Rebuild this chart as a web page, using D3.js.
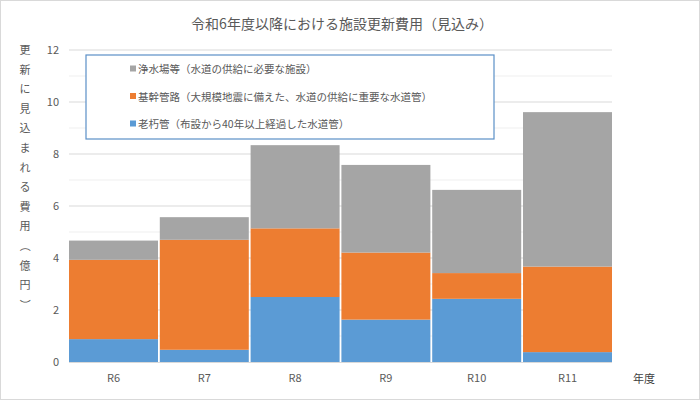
<!DOCTYPE html>
<html><head><meta charset="utf-8">
<script src="https://cdn.jsdelivr.net/npm/d3@7"></script>
<style>body{margin:0;background:#fff}text{font-family:"Noto Sans CJK JP",sans-serif}</style>
</head><body><svg id="c" width="700" height="400"></svg>
<script>
var years = ['R6', 'R7', 'R8', 'R9', 'R10', 'R11'];
var oldPipe = [0.88, 0.47, 2.50, 1.63, 2.43, 0.38];
var mainPipe = [3.05, 4.23, 2.64, 2.58, 0.99, 3.29];
var plant = [0.74, 0.87, 3.20, 3.37, 3.20, 5.94];
var seriesNames = ['老朽管（布設から40年以上経過した水道管）', '基幹管路（大規模地震に備えた、水道の供給に重要な水道管）', '浄水場等（水道の供給に必要な施設）'];
var colors = ['#5b9bd5', '#ed7d31', '#a5a5a5'];
var yTicks = [0, 2, 4, 6, 8, 10, 12];

var svg = d3.select('#c');
svg.append('rect').attr('x', 0.5).attr('y', 0.5).attr('width', 699).attr('height', 399)
    .attr('fill', '#fff').attr('stroke', '#d9d9d9');

var x = d3.scaleBand().domain(years).range([69, 612]).paddingInner(0.02);
var y = d3.scaleLinear().domain([0, 12]).range([362, 50]);

// grid
svg.append('g').selectAll('line').data(d3.range(1, 13)).join('line')
    .attr('x1', 69).attr('x2', 612).attr('y1', y).attr('y2', y)
    .attr('stroke', function(d) { return d % 2 ? '#efefef' : '#d9d9d9'; });

var table = years.map(function(yr, i) {
    return {year: yr, s0: oldPipe[i], s1: mainPipe[i], s2: plant[i]};
});
var stacked = d3.stack().keys(['s0', 's1', 's2'])(table);

svg.append('g').selectAll('g').data(stacked).join('g')
    .attr('fill', function(d, i) { return colors[i]; })
    .selectAll('rect').data(function(d) { return d; }).join('rect')
    .attr('x', function(d) { return x(d.data.year); })
    .attr('width', x.bandwidth())
    .attr('y', function(d) { return y(d[1]); })
    .attr('height', function(d) { return y(d[0]) - y(d[1]); });

svg.append('line').attr('x1', 69).attr('x2', 612).attr('y1', 362.5).attr('y2', 362.5).attr('stroke', '#d9d9d9');

var yAxis = svg.append('g').attr('transform', 'translate(62,0)')
    .call(d3.axisLeft(y).tickValues(yTicks).tickSize(0));
var xAxis = svg.append('g').attr('transform', 'translate(0,362)')
    .call(d3.axisBottom(x).tickSize(0).tickPadding(12));
[yAxis, xAxis].forEach(function(a) {
    a.select('.domain').remove();
    a.selectAll('text').attr('fill', '#595959').attr('font-size', 11);
});
yAxis.selectAll('text').attr('text-anchor', 'end').attr('dx', 0);

svg.append('text').attr('x', 342).attr('y', 29).attr('text-anchor', 'middle')
    .attr('font-size', 14).attr('fill', '#595959').text('令和6年度以降における施設更新費用（見込み）');
svg.append('text').attr('x', 644).attr('y', 383).attr('text-anchor', 'middle')
    .attr('font-size', 11).attr('fill', '#404040').text('年度');

var yTitle = '更新に見込まれる費用（億円）'.split('');
svg.append('g').selectAll('text').data(yTitle).join('text')
    .attr('x', 25).attr('y', function(d, i) { return 54 + i * 19.6; })
    .attr('text-anchor', 'middle').attr('font-size', 11).attr('fill', '#595959')
    .attr('transform', function(d, i) {
        return '（）'.indexOf(d) >= 0 ? 'rotate(90,25,' + (50 + i * 19.6) + ')' : null;
    })
    .text(function(d) { return d; });

// legend
svg.append('rect').attr('x', 86).attr('y', 55).attr('width', 408).attr('height', 84)
    .attr('fill', '#fff').attr('stroke', '#5b8fc7').attr('stroke-width', 1.2);
var legendOrder = [2, 1, 0];
var lg = svg.append('g').selectAll('g').data(legendOrder).join('g')
    .attr('transform', function(d, i) { return 'translate(130,' + (69 + i * 27.5) + ')'; });
lg.append('rect').attr('x', 0).attr('y', -3.5).attr('width', 6).attr('height', 6)
    .attr('fill', function(d) { return colors[d]; });
lg.append('text').attr('x', 8).attr('y', 4).attr('font-size', 10.5).attr('fill', '#595959')
    .text(function(d) { return seriesNames[d]; });
</script></body></html>
